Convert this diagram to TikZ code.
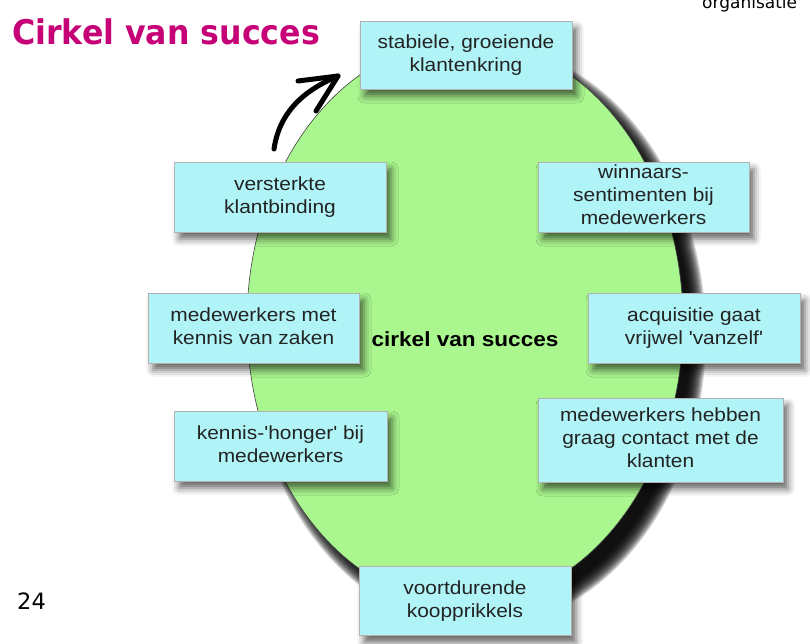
\documentclass[tikz,border=0pt]{standalone}
\usepackage{fontspec}
\usepackage{graphicx}
\setmainfont{Liberation Sans}
\newfontfamily\dejavu{DejaVu Sans}
\usetikzlibrary{shadows.blur}
\definecolor{eggreen}{RGB}{170,247,143}
\definecolor{boxcyan}{RGB}{176,244,247}
\definecolor{boxlow}{RGB}{232,252,252}
\definecolor{boxtop}{RGB}{206,249,250}
\definecolor{titlemag}{RGB}{198,0,118}
\definecolor{boxtext}{RGB}{35,35,35}
\pgfdeclareverticalshading{boxshade}{100bp}{color(0bp)=(boxlow); color(10bp)=(boxcyan); color(82bp)=(boxcyan); color(100bp)=(boxtop)}
\newcommand{\bl}[1]{\scalebox{1.1}[1]{\begin{tabular}{@{}c@{}}#1\end{tabular}}}
\newcommand{\sq}{\textquotesingle}
\begin{document}
\begin{tikzpicture}[x=1pt,y=-1pt,
  boxnode/.style={draw=black!30, line width=0.7pt, shading=boxshade, shade,
    inner sep=0pt, text=boxtext, font=\fontsize{19}{23}\selectfont,
    minimum width=212pt, minimum height=70pt,
    blur shadow={shadow xshift=5pt, shadow yshift=-7pt, shadow blur radius=7pt, shadow opacity=60}},
  arrowline/.style={line width=5pt, line cap=round, line join=round},
  eggshadow/.style={fill=black, opacity=0.15}]
\useasboundingbox (0,0) rectangle (810,643);
% egg shadow (layered)
\foreach \r in {0,...,16} {
  \fill[eggshadow] (478,336) ellipse [x radius={228pt-\r pt}, y radius={292pt-\r pt}];
}
% egg
\path[fill=eggreen, draw=black!75, line width=0.6pt]
  (465,322) ellipse [x radius=218pt, y radius=282pt];
% boxes
\node[boxnode, minimum height=68pt] (top) at (466,55) {\bl{stabiele, groeiende\\klantenkring}};
\node[boxnode] (vk) at (280,197) {\bl{versterkte\\klantbinding}};
\node[boxnode, minimum width=211pt] (ws) at (643.5,197) {\bl{winnaars-\\sentimenten bij\\medewerkers}};
\node[boxnode] (aq) at (694,328) {\bl{acquisitie gaat\\vrijwel \sq vanzelf\sq}};
\node[boxnode, minimum width=211pt] (mk) at (253.5,328) {\bl{medewerkers met\\kennis van zaken}};
\node[boxnode, minimum width=213pt] (kh) at (280.5,446) {\bl{kennis-\sq honger\sq\ bij\\medewerkers}};
\node[boxnode, minimum width=245pt, minimum height=84pt] (mh) at (660.5,440) {\bl{medewerkers hebben\\graag contact met de\\klanten}};
\node[boxnode, minimum height=69pt] (vd) at (465,601) {\bl{voortdurende\\koopprikkels}};
% centre label
\node[font=\bfseries\fontsize{20.5}{24}\selectfont] (ctr) at (465,339) {\scalebox{1.1}[1]{cirkel van succes}};
% arrow
\coordinate (a0) at (274,149);
\coordinate (a1) at (338,76);
\coordinate (b1) at (298,81);
\coordinate (b2) at (316,111);
\draw[arrowline] (a0) .. controls (279,115) and (300,92) .. (a1);
\draw[arrowline] (b1) -- (a1) -- (b2);
% title and page texts
\node[anchor=base west, inner sep=0pt, text=titlemag, font=\dejavu\bfseries\fontsize{34}{38}\selectfont] (title) at (12,44) {\scalebox{0.93}[1]{Cirkel van succes}};
\node[anchor=base west, inner sep=0pt, font=\dejavu\fontsize{17}{20}\selectfont] (org) at (702,8) {organisatie};
\node[anchor=base west, inner sep=0pt, font=\dejavu\fontsize{22.5}{26}\selectfont] (pg) at (17,609) {24};
\end{tikzpicture}
\end{document}
